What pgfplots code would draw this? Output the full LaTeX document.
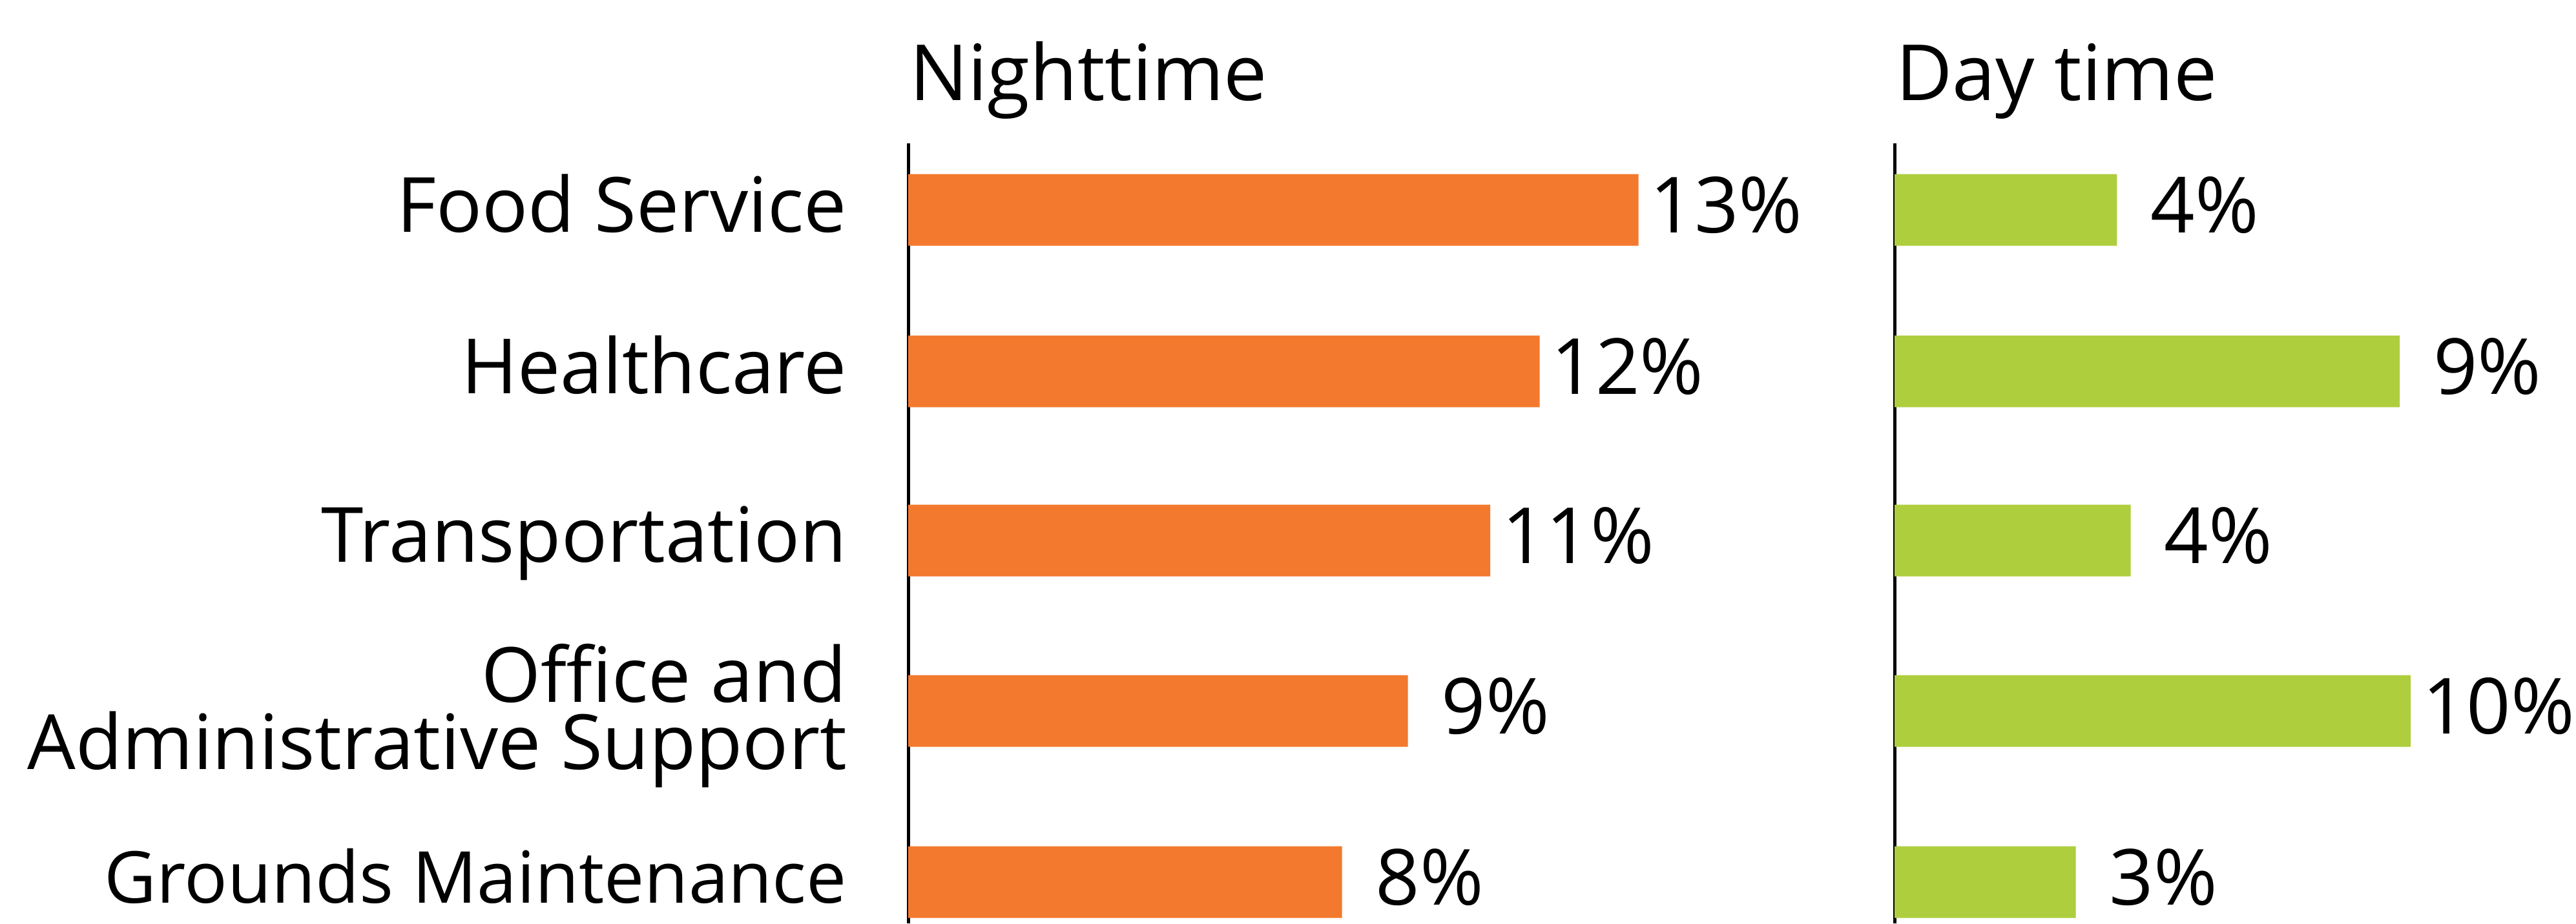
\documentclass[border=0pt]{standalone}
\usepackage{fontspec}
\setmainfont{Open Sans}
\usepackage{pgfplots}
\pgfplotsset{compat=1.18}
\usepackage{pgfplotstable}

\definecolor{nightorange}{RGB}{243,121,46}
\definecolor{daygreen}{RGB}{174,206,62}

% pos = bar centre (pt from top), val = bar length, lab = printed value
\pgfplotstableread{
pos   val   lab
32.5  13.3  13
57.5  11.5  12
83.7  10.6  11
110.1 9.1   9
136.6 7.9   8
}\night
\pgfplotstableread{
pos   val   lab
32.5  4.05  4
57.5  9.2   9
83.7  4.3   4
110.1 9.4   10
136.6 3.3   3
}\day

\newcommand{\lblfont}{\fontsize{12}{10.4}\selectfont}
\newcommand{\catfont}{\fontsize{11.8}{10.4}\selectfont}
% fixed strut so every one-line label sits the same way on its bar
\newcommand{\lstrut}{\rule[-0.22em]{0pt}{1.02em}}

\pgfplotsset{
  panel/.style={
    scale only axis,
    x=8.5pt, y=1pt, y dir=reverse,
    xmin=0, xmax=14, ymin=22.2, ymax=143,
    enlargelimits=false,
    axis x line=none, axis y line=left,
    axis line style={-, line width=0.5pt, black},
    xbar, bar width=11.1pt,
    major tick length=0pt, tick style={draw=none},
    point meta=explicit symbolic,
    nodes near coords={\pgfplotspointmeta\%},
    every node near coord/.append style={anchor=base, xshift=13.6pt,
      yshift=-3.5pt, font=\lblfont, text=black, inner sep=0pt},
  },
}

\begin{document}
\begin{tikzpicture}
\useasboundingbox (0,0) rectangle (398.8pt,-143pt);

\begin{axis}[panel,
    at={(140.6pt,-22.2pt)}, anchor=north west,
    ytick={32.5,57.5,83.7,110.1,136.6},
    yticklabels={\lstrut Food Service, \lstrut Healthcare, \lstrut Transportation,
      {\rule{0pt}{10.6pt}Office and\\Administrative Support\rule[-0.24em]{0pt}{0pt}},
      {\fontsize{11.1}{10.4}\selectfont\lstrut Grounds Maintenance}},
    yticklabel style={align=right, anchor=east, inner sep=0pt,
      xshift=-9.3pt, font=\catfont},
]
\addplot[draw=none, fill=nightorange] table[x=val, y=pos, meta=lab] {\night};
\end{axis}

\begin{axis}[panel,
    at={(293.3pt,-22.2pt)}, anchor=north west,
    ytick=\empty,
]
\addplot[draw=none, fill=daygreen] table[x=val, y=pos, meta=lab] {\day};
\end{axis}

\node[anchor=base west, inner sep=0pt, font=\lblfont] at (140.6pt,-15.5pt) {Nighttime};
\node[anchor=base west, inner sep=0pt, font=\lblfont] at (293.3pt,-15.5pt) {Day time};
\end{tikzpicture}
\end{document}
